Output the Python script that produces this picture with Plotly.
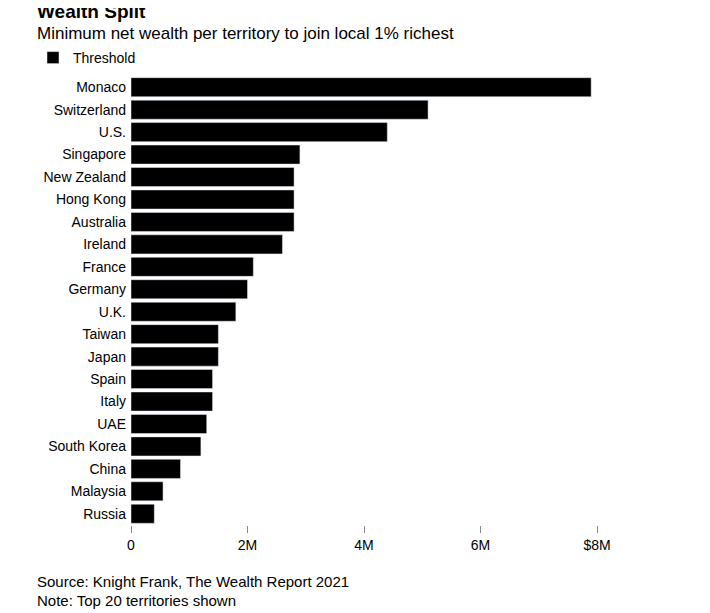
import plotly.graph_objects as go

territories = ["Monaco", "Switzerland", "U.S.", "Singapore", "New Zealand", "Hong Kong",
               "Australia", "Ireland", "France", "Germany", "U.K.", "Taiwan", "Japan",
               "Spain", "Italy", "UAE", "South Korea", "China", "Malaysia", "Russia"]
threshold = [7.9e6, 5.1e6, 4.4e6, 2.9e6, 2.8e6, 2.8e6, 2.8e6, 2.6e6, 2.1e6, 2.0e6,
             1.8e6, 1.5e6, 1.5e6, 1.4e6, 1.4e6, 1.3e6, 1.2e6, 0.85e6, 0.55e6, 0.4e6]
tick_vals = [0, 2e6, 4e6, 6e6, 8e6]
tick_text = ["0", "2M", "4M", "6M", "$8M"]

FONT = "Liberation Sans, Arial, sans-serif"
L, R, T, B = 123, 121, 68, 96
PW, PH = 710 - L - R, 613 - T - B


def main():
    fig = go.Figure(go.Bar(
        x=threshold, y=territories, orientation="h",
        marker_color="#000000", name="Threshold", showlegend=True,
    ))
    fig.update_layout(
        width=710, height=613,
        margin=dict(l=L, r=R, t=T, b=B),
        plot_bgcolor="white", paper_bgcolor="white",
        font=dict(family=FONT, size=14, color="#000"),
        bargap=0.15,
        legend=dict(orientation="h", x=(25 - L) / PW, xanchor="left",
                    y=1 + 2 / PH, yanchor="bottom", font=dict(size=14), itemwidth=30),
        xaxis=dict(range=[0, 8e6], tickvals=tick_vals, ticktext=tick_text,
                   showgrid=False, zeroline=False, ticks="outside", ticklen=7,
                   tickcolor="#888", showline=False, tickfont=dict(size=14)),
        yaxis=dict(autorange="reversed", showgrid=False, ticks="", ticklabelstandoff=4,
                   tickfont=dict(size=14)),
    )
    texts = [
        ("<b>Wealth Split</b>", -9, 19),
        ("Minimum net wealth per territory to join local 1% richest", 14, 17),
        ("Source: Knight Frank, The Wealth Report 2021", 563, 15),
        ("Note: Top 20 territories shown", 582, 15),
    ]
    for t, ypx, sz in texts:
        fig.add_annotation(text=t, xref="paper", yref="paper",
                           x=(27 - L) / PW, y=1 + (T - ypx) / PH,
                           xanchor="left", yanchor="top", showarrow=False,
                           font=dict(size=sz, family=FONT, color="#000"))
    fig.write_html("out.html")


if __name__ == "__main__":
    main()
